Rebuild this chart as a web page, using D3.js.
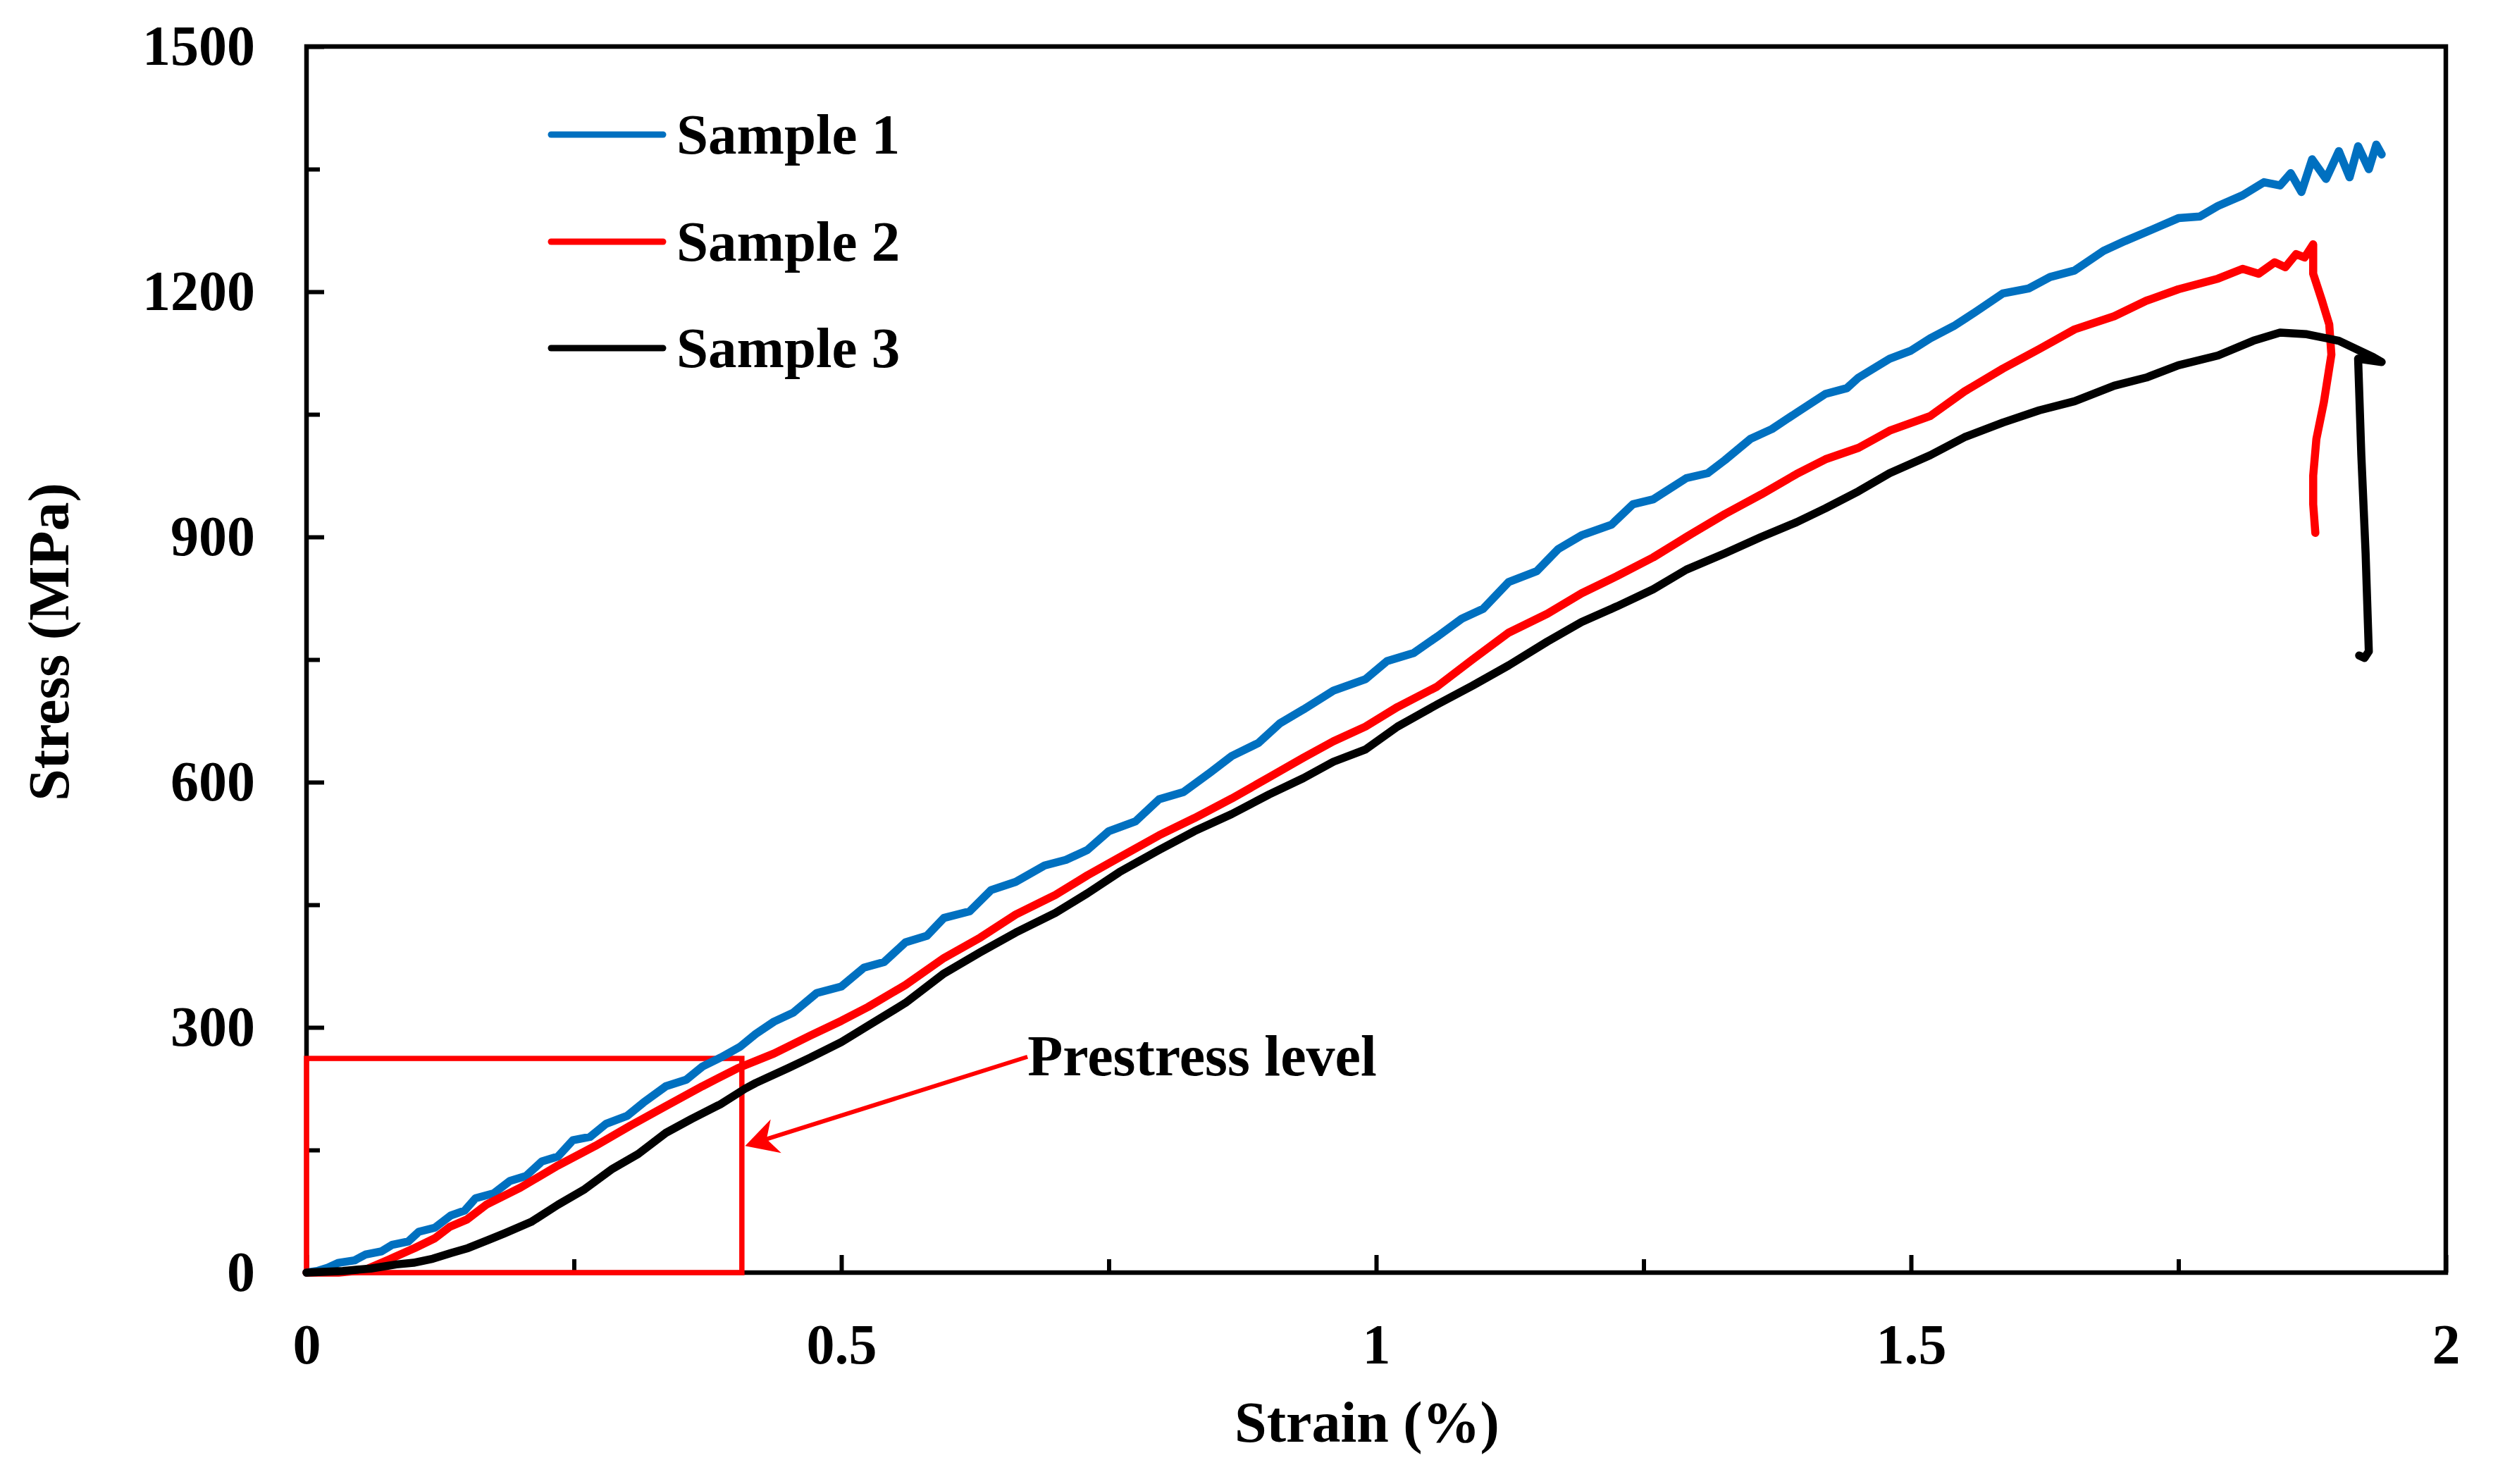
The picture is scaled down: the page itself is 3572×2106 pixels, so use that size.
<!DOCTYPE html>
<html>
<head>
<meta charset="utf-8">
<script src="https://cdn.jsdelivr.net/npm/d3@7/dist/d3.min.js"></script>
<style>
  body { margin: 0; background: #fff; }
  svg { display: block; }
</style>
</head>
<body>
<svg id="chart"></svg>
<script>
// strain (%) / stress (MPa) pairs
const sample1 = [
  [0, 0], [0.01, 2], [0.02, 6], [0.03, 12], [0.045, 15], [0.055, 22], [0.07, 26], [0.08, 34],
  [0.095, 38], [0.105, 50], [0.12, 55], [0.135, 70], [0.148, 76], [0.158, 91], [0.175, 97],
  [0.19, 112], [0.205, 118], [0.22, 136], [0.235, 142], [0.249, 162], [0.265, 166], [0.28, 182],
  [0.3, 192], [0.315, 208], [0.336, 228], [0.355, 236], [0.37, 252], [0.387, 263], [0.405, 276],
  [0.42, 292], [0.437, 307], [0.455, 318], [0.477, 342], [0.5, 350], [0.521, 373], [0.54, 380],
  [0.56, 404], [0.58, 412], [0.596, 434], [0.62, 442], [0.64, 468], [0.663, 478], [0.69, 498],
  [0.71, 505], [0.73, 517], [0.75, 540], [0.775, 552], [0.797, 579], [0.82, 588], [0.845, 612],
  [0.865, 632], [0.89, 648], [0.91, 672], [0.932, 689], [0.96, 712], [0.99, 726], [1.01, 748],
  [1.035, 758], [1.057, 778], [1.08, 800], [1.1, 812], [1.124, 845], [1.15, 858], [1.17, 885],
  [1.192, 902], [1.22, 915], [1.24, 940], [1.259, 946], [1.29, 972], [1.31, 978], [1.326, 994],
  [1.35, 1020], [1.37, 1032], [1.393, 1052], [1.42, 1075], [1.44, 1082], [1.451, 1095],
  [1.48, 1118], [1.5, 1128], [1.518, 1143], [1.54, 1158], [1.56, 1175], [1.586, 1198],
  [1.61, 1204], [1.63, 1218], [1.653, 1226], [1.68, 1250], [1.7, 1262], [1.72, 1273],
  [1.75, 1290], [1.77, 1292], [1.787, 1305], [1.81, 1318], [1.83, 1334], [1.845, 1330],
  [1.855, 1345], [1.865, 1322], [1.875, 1362], [1.888, 1338], [1.9, 1372], [1.91, 1340],
  [1.918, 1378], [1.928, 1350], [1.935, 1380], [1.94, 1368]
];

const sample2 = [
  [0, 0], [0.03, 0], [0.054, 3], [0.077, 16], [0.101, 30], [0.12, 42], [0.134, 56], [0.15, 65],
  [0.168, 83], [0.2, 104], [0.235, 131], [0.27, 155], [0.303, 180], [0.335, 203], [0.37, 228],
  [0.403, 250], [0.437, 268], [0.471, 290], [0.5, 308], [0.525, 325], [0.56, 352], [0.596, 385],
  [0.63, 410], [0.663, 438], [0.7, 462], [0.73, 486], [0.76, 508], [0.797, 535], [0.83, 556],
  [0.865, 580], [0.9, 606], [0.932, 630], [0.96, 650], [0.99, 668], [1.02, 692], [1.057, 717],
  [1.09, 750], [1.124, 783], [1.16, 806], [1.192, 831], [1.225, 852], [1.259, 875], [1.29, 900],
  [1.326, 928], [1.36, 952], [1.393, 977], [1.42, 995], [1.451, 1009], [1.48, 1030],
  [1.518, 1048], [1.55, 1078], [1.586, 1106], [1.62, 1130], [1.653, 1154], [1.69, 1170],
  [1.72, 1189], [1.75, 1203], [1.787, 1216], [1.81, 1228], [1.825, 1222], [1.84, 1236],
  [1.85, 1230], [1.86, 1246], [1.868, 1242], [1.876, 1258], [1.876, 1222], [1.884, 1190],
  [1.891, 1160], [1.893, 1123], [1.886, 1065], [1.879, 1020], [1.876, 975], [1.876, 940],
  [1.878, 905]
];

const sample3 = [
  [0, 0], [0.034, 2], [0.06, 5], [0.084, 10], [0.1, 12], [0.118, 17], [0.135, 24], [0.151, 30],
  [0.17, 40], [0.185, 48], [0.21, 62], [0.235, 83], [0.26, 102], [0.286, 127], [0.31, 145],
  [0.336, 171], [0.36, 188], [0.387, 206], [0.41, 225], [0.42, 232], [0.45, 250], [0.471, 263],
  [0.5, 282], [0.525, 302], [0.56, 330], [0.596, 366], [0.63, 392], [0.663, 416], [0.7, 440],
  [0.73, 464], [0.76, 490], [0.797, 517], [0.83, 540], [0.865, 561], [0.9, 585], [0.932, 605],
  [0.96, 625], [0.99, 640], [1.02, 668], [1.057, 695], [1.09, 718], [1.124, 743], [1.16, 772],
  [1.192, 796], [1.225, 815], [1.259, 836], [1.29, 860], [1.326, 880], [1.36, 900], [1.393, 918],
  [1.42, 935], [1.451, 956], [1.48, 978], [1.518, 1000], [1.55, 1022], [1.586, 1040],
  [1.62, 1055], [1.653, 1066], [1.69, 1085], [1.72, 1095], [1.75, 1110], [1.787, 1122],
  [1.82, 1140], [1.845, 1150], [1.87, 1148], [1.9, 1140], [1.932, 1120], [1.94, 1114],
  [1.918, 1118], [1.921, 1000], [1.925, 880], [1.928, 760], [1.924, 752], [1.919, 755]
];

const seriesNames = ["Sample 1", "Sample 2", "Sample 3"];
const seriesColors = ["#0070C0", "#FF0000", "#000000"];

const strainTicks = [0, 0.5, 1, 1.5, 2];
const strainMinor = [0.25, 0.75, 1.25, 1.75];
const stressTicks = [0, 300, 600, 900, 1200, 1500];
const stressMinor = [150, 450, 750, 1050, 1350];

// prestress window and arrow (strain, stress)
const prestressBox = [0.407, 262];
const arrowFrom = [0.674, 264];
const arrowTo = [0.41, 155];

const W = 3572, H = 2106;
const plotL = 435, plotR = 3471, plotT = 66, plotB = 1806;
const fontFam = '"Liberation Serif", "Times New Roman", serif';

const svg = d3.select("#chart").attr("width", W).attr("height", H);

const x = d3.scaleLinear().domain([0, 2]).range([plotL, plotR]);
const y = d3.scaleLinear().domain([0, 1500]).range([plotB, plotT]);

// frame
svg.append("rect")
  .attr("x", plotL).attr("y", plotT)
  .attr("width", plotR - plotL).attr("height", plotB - plotT)
  .attr("fill", "none").attr("stroke", "#000").attr("stroke-width", 6.5);

function styleAxis(g) {
  g.select(".domain").remove();
  g.selectAll(".tick line").attr("stroke", "#000").attr("stroke-width", 6);
  g.selectAll(".tick text")
    .attr("fill", "#000")
    .style("font-family", fontFam)
    .style("font-weight", "bold")
    .style("font-size", "80px");
}

svg.append("g")
  .attr("transform", `translate(0,${plotB})`)
  .call(d3.axisBottom(x).tickValues(strainTicks).tickSize(-25).tickPadding(72)
    .tickFormat(d => String(d)))
  .call(styleAxis);

svg.append("g")
  .attr("transform", `translate(0,${plotB})`)
  .call(d3.axisBottom(x).tickValues(strainMinor).tickSize(-19).tickFormat(""))
  .call(styleAxis);

svg.append("g")
  .attr("transform", `translate(${plotL},0)`)
  .call(d3.axisLeft(y).tickValues(stressTicks).tickSize(-25).tickPadding(73)
    .tickFormat(d3.format("d")))
  .call(styleAxis);

svg.append("g")
  .attr("transform", `translate(${plotL},0)`)
  .call(d3.axisLeft(y).tickValues(stressMinor).tickSize(-19).tickFormat(""))
  .call(styleAxis);

// axis titles
svg.append("text")
  .attr("x", 1940).attr("y", 2046)
  .attr("text-anchor", "middle")
  .style("font-family", fontFam).style("font-weight", "bold").style("font-size", "82px")
  .text("Strain (%)");

svg.append("text")
  .attr("transform", "translate(97,911) rotate(-90)")
  .attr("text-anchor", "middle")
  .style("font-family", fontFam).style("font-weight", "bold").style("font-size", "82px")
  .text("Stress (MPa)");

// prestress box
svg.append("rect")
  .attr("x", x(0)).attr("y", y(prestressBox[1]))
  .attr("width", x(prestressBox[0]) - x(0))
  .attr("height", y(0) - y(prestressBox[1]))
  .attr("fill", "none").attr("stroke", "#FF0000").attr("stroke-width", 7.5);

// curves
const line = d3.line().x(d => x(d[0])).y(d => y(d[1]));
[sample1, sample2, sample3].forEach((s, i) => {
  svg.append("path")
    .datum(s)
    .attr("d", line)
    .attr("fill", "none")
    .attr("stroke", seriesColors[i])
    .attr("stroke-width", 11.5)
    .attr("stroke-linejoin", "round")
    .attr("stroke-linecap", "round");
});

// arrow
const ax0 = x(arrowFrom[0]), ay0 = y(arrowFrom[1]);
const ax1 = x(arrowTo[0]), ay1 = y(arrowTo[1]);
const len = Math.hypot(ax0 - ax1, ay0 - ay1);
const ux = (ax0 - ax1) / len, uy = (ay0 - ay1) / len;
const nx = -uy, ny = ux;
svg.append("line")
  .attr("x1", ax0).attr("y1", ay0)
  .attr("x2", ax1 + ux * 30).attr("y2", ay1 + uy * 30)
  .attr("stroke", "#FF0000").attr("stroke-width", 6);
svg.append("path")
  .attr("d", `M${ax1},${ay1}
    L${ax1 + ux * 46 + nx * 25},${ay1 + uy * 46 + ny * 25}
    L${ax1 + ux * 32},${ay1 + uy * 32}
    L${ax1 + ux * 46 - nx * 25},${ay1 + uy * 46 - ny * 25}Z`)
  .attr("fill", "#FF0000");

svg.append("text")
  .attr("x", ax0).attr("y", 1526)
  .style("font-family", fontFam).style("font-weight", "bold").style("font-size", "82px")
  .text("Prestress level");

// legend
const legendY = [191, 343, 494];
seriesNames.forEach((name, i) => {
  svg.append("line")
    .attr("x1", 782).attr("x2", 941)
    .attr("y1", legendY[i]).attr("y2", legendY[i])
    .attr("stroke", seriesColors[i]).attr("stroke-width", 9)
    .attr("stroke-linecap", "round");
  svg.append("text")
    .attr("x", 960).attr("y", legendY[i] + 27)
    .style("font-family", fontFam).style("font-weight", "bold").style("font-size", "81px")
    .text(name);
});
</script>
</body>
</html>
